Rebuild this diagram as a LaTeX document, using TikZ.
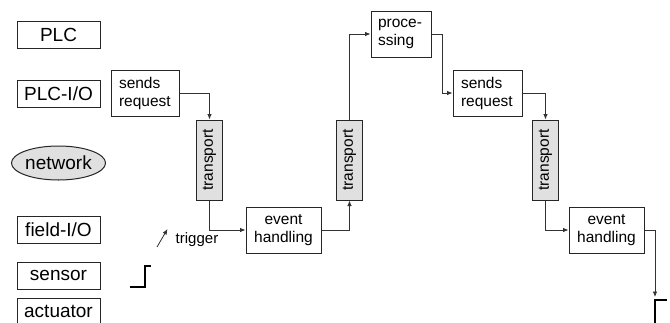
\documentclass[tikz,border=0pt]{standalone}
\usepackage{fontspec}
\setmainfont{Liberation Sans}
\usetikzlibrary{arrows.meta,shapes.geometric}

\tikzset{
  lane/.style={draw=black!85, line width=1pt, fill=white, minimum width=83pt,
    minimum height=27pt, inner sep=0pt, font=\fontsize{19}{22}\selectfont},
  lanenet/.style={draw=black!85, line width=1pt, fill=black!12, ellipse,
    minimum width=85pt, minimum height=34pt, inner sep=0pt,
    font=\fontsize{19}{22}\selectfont},
  stepbox/.style={draw=black!85, line width=1pt, fill=white, minimum height=46pt,
    inner sep=0pt, font=\fontsize{15.5}{18}\selectfont},
  leftbox/.style={stepbox, align=left},
  midbox/.style={stepbox, align=center},
  transbox/.style={draw=black!85, line width=1pt, fill=black!12,
    minimum width=26.5pt, minimum height=80pt, inner sep=0pt,
    font=\fontsize{15.5}{18}\selectfont},
  arr/.style={draw=black!80, line width=0.8pt, -{Latex[length=5.5pt,width=4.5pt]}},
  signal/.style={line width=1.8pt, black},
}

\begin{document}
\begin{tikzpicture}[x=1pt, y=-1pt]
  \clip (0,0) rectangle (670,322);
  \fill[white] (0,0) rectangle (670,322);

  % layer labels on the left
  \node[lane] (plc)    at (58.5, 34.5)  {PLC};
  \node[lane] (plcio)  at (58.5, 93.5)  {PLC-I/O};
  \node[lanenet] (net) at (58.5, 163)   {network};
  \node[lane] (fio)    at (58.5, 229.5) {field-I/O};
  \node[lane] (sens)   at (58.5, 275.5) {sensor};
  \node[lane] (act)    at (58.5, 311.5) {actuator};

  % processing chain
  \node[leftbox, minimum width=68pt] (sr1) at (145, 93)
    {\parbox{52pt}{\raggedright sends\\request}};
  \node[transbox] (t1) at (209.5, 160) {\rotatebox{90}{transport}};
  \node[midbox, minimum width=75pt] (eh1) at (283.5, 230) {event\\handling};
  \node[transbox] (t2) at (349.5, 160) {\rotatebox{90}{transport}};
  \node[leftbox, minimum width=60pt] (proc) at (401, 34)
    {\parbox{46pt}{\raggedright proce-\\ssing}};
  \node[leftbox, minimum width=69pt] (sr2) at (487.5, 93)
    {\parbox{53pt}{\raggedright sends\\request}};
  \node[transbox] (t3) at (545.5, 160) {\rotatebox{90}{transport}};
  \node[midbox, minimum width=75pt] (eh2) at (606.5, 230) {event\\handling};

  \node[font=\fontsize{15}{18}\selectfont, inner sep=0pt] (trig) at (197, 240) {trigger};

  % connectors
  \draw[arr] (sr1.east) -| (t1.north);
  \draw[arr] (t1.south) |- (eh1.west);
  \draw[arr] (eh1.east) -| (t2.south);
  \draw[arr] (t2.north) |- (proc.west);
  \draw[arr] (proc.east) -- ++(11,0) |- (sr2.west);
  \draw[arr] (sr2.east) -| (t3.north);
  \draw[arr] (t3.south) |- (eh2.west);
  \coordinate (actin) at (655, 297);
  \draw[arr] (eh2.east) -| (actin);

  \coordinate (trigfrom) at (157, 247);
  \coordinate (trigto) at (167.5, 229);
  \draw[arr] (trigfrom) -- (trigto);

  % sensor and actuator step signals
  \draw[signal] (130, 287) -- (145, 287) -- (145, 266) -- (151, 266);
  \draw[signal] (655, 330) -- (655, 300) -- (667, 300);
\end{tikzpicture}
\end{document}
